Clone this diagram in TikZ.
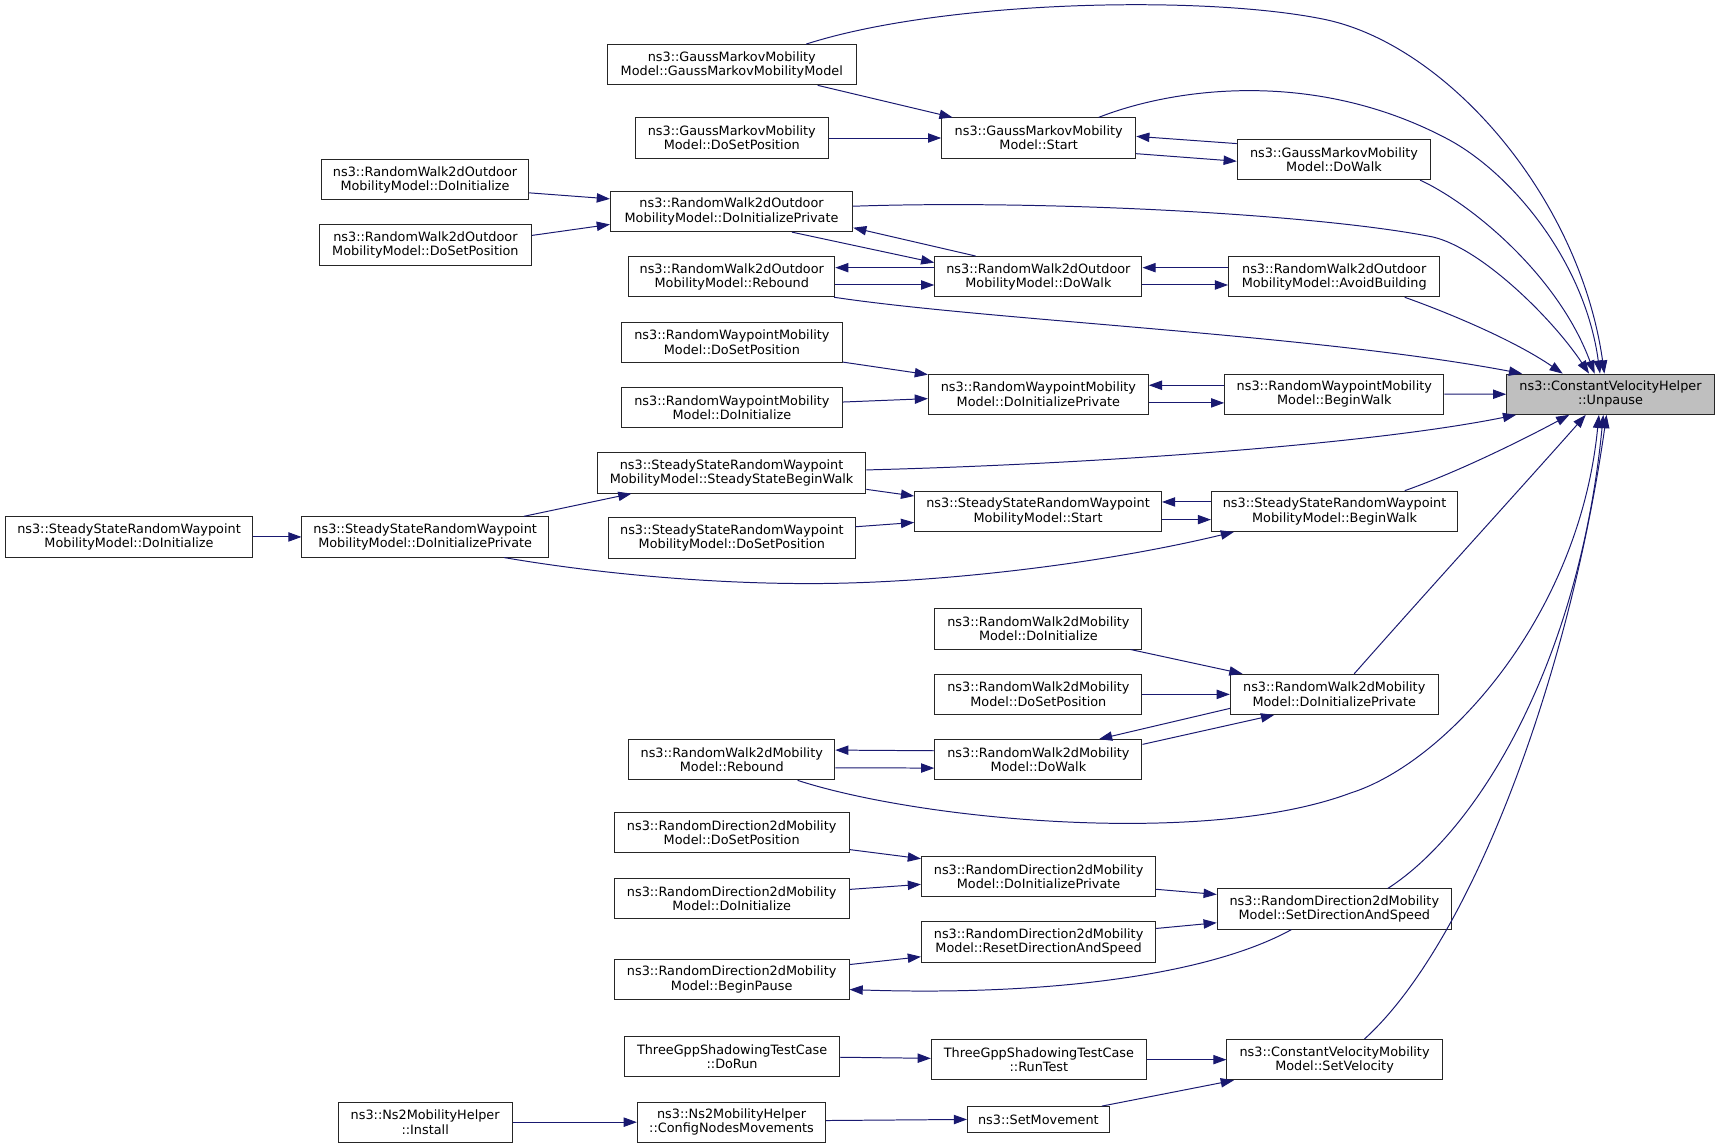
\documentclass[tikz,border=0pt]{standalone}
\usepackage{fontspec}
\setmainfont{DejaVu Sans}
\usetikzlibrary{arrows.meta,calc}
\definecolor{mblue}{HTML}{191970}
\definecolor{rootgray}{HTML}{BFBFBF}
\tikzset{
  box/.style={draw=black!85, line width=0.9pt, fill=white, inner sep=0pt,
    minimum height=36.7pt, align=center, font=\fontsize{11.7}{13.1}\selectfont},
  edge/.style={draw=mblue, line width=0.9pt, -{Triangle[length=12pt,width=8.5pt]}}
}
\begin{document}
\begin{tikzpicture}[x=1pt,y=-1pt]
\useasboundingbox (0,0) rectangle (1568,1046.5);
% nodes
\node[box, fill=rootgray, minimum width=189.3pt] (unp) at (1468.2,359.4) {ns3::ConstantVelocityHelper\\::Unpause};
\node[box, minimum width=226.6pt] (gmc) at (667.1,59) {ns3::GaussMarkovMobility\\Model::GaussMarkovMobilityModel};
\node[box, minimum width=176.4pt] (gmsp) at (667.1,125.8) {ns3::GaussMarkovMobility\\Model::DoSetPosition};
\node[box, minimum width=176.9pt] (gmst) at (946.9,125.8) {ns3::GaussMarkovMobility\\Model::Start};
\node[box, minimum width=176.4pt] (gmwk) at (1216.1,145.4) {ns3::GaussMarkovMobility\\Model::DoWalk};
\node[box, minimum width=189pt] (odi) at (387.5,163.8) {ns3::RandomWalk2dOutdoor\\MobilityModel::DoInitialize};
\node[box, minimum width=193.6pt] (osp) at (387.8,223.4) {ns3::RandomWalk2dOutdoor\\MobilityModel::DoSetPosition};
\node[box, minimum width=220.9pt] (odip) at (666.9,192.8) {ns3::RandomWalk2dOutdoor\\MobilityModel::DoInitializePrivate};
\node[box, minimum width=187.8pt] (orb) at (667.1,252.2) {ns3::RandomWalk2dOutdoor\\MobilityModel::Rebound};
\node[box, minimum width=188.9pt] (owk) at (946.6,252.2) {ns3::RandomWalk2dOutdoor\\MobilityModel::DoWalk};
\node[box, minimum width=192.6pt] (oab) at (1216.3,252.2) {ns3::RandomWalk2dOutdoor\\MobilityModel::AvoidBuilding};
\node[box, minimum width=201.5pt] (wsp) at (667.2,311.9) {ns3::RandomWaypointMobility\\Model::DoSetPosition};
\node[box, minimum width=201.5pt] (wdi) at (667.2,371.5) {ns3::RandomWaypointMobility\\Model::DoInitialize};
\node[box, minimum width=200.5pt] (wdip) at (946.6,359.3) {ns3::RandomWaypointMobility\\Model::DoInitializePrivate};
\node[box, minimum width=199.9pt] (wbw) at (1216.4,359.3) {ns3::RandomWaypointMobility\\Model::BeginWalk};
\node[box, minimum width=244.9pt] (sbwa) at (666.9,431.2) {ns3::SteadyStateRandomWaypoint\\MobilityModel::SteadyStateBeginWalk};
\node[box, minimum width=224.5pt] (ssp) at (667.2,490.5) {ns3::SteadyStateRandomWaypoint\\MobilityModel::DoSetPosition};
\node[box, minimum width=225pt] (sst) at (946.3,466.1) {ns3::SteadyStateRandomWaypoint\\MobilityModel::Start};
\node[box, minimum width=224.5pt] (sbw) at (1216.6,466.1) {ns3::SteadyStateRandomWaypoint\\MobilityModel::BeginWalk};
\node[box, minimum width=225.4pt] (sdi) at (117.6,489.5) {ns3::SteadyStateRandomWaypoint\\MobilityModel::DoInitialize};
\node[box, minimum width=224.6pt] (sdip) at (387.6,489.5) {ns3::SteadyStateRandomWaypoint\\MobilityModel::DoInitializePrivate};
\node[box, minimum width=188.9pt] (mdi) at (946.6,573.3) {ns3::RandomWalk2dMobility\\Model::DoInitialize};
\node[box, minimum width=188.9pt] (msp) at (946.6,633) {ns3::RandomWalk2dMobility\\Model::DoSetPosition};
\node[box, minimum width=189.4pt] (mdip) at (1216.3,633) {ns3::RandomWalk2dMobility\\Model::DoInitializePrivate};
\node[box, minimum width=187.8pt] (mrb) at (667.1,692.6) {ns3::RandomWalk2dMobility\\Model::Rebound};
\node[box, minimum width=188.9pt] (mwk) at (946.6,692.6) {ns3::RandomWalk2dMobility\\Model::DoWalk};
\node[box, minimum width=214.1pt] (dsp) at (667,759.2) {ns3::RandomDirection2dMobility\\Model::DoSetPosition};
\node[box, minimum width=214.1pt] (ddi) at (667,819) {ns3::RandomDirection2dMobility\\Model::DoInitialize};
\node[box, minimum width=213.6pt] (ddip) at (946.8,799.2) {ns3::RandomDirection2dMobility\\Model::DoInitializePrivate};
\node[box, minimum width=213.5pt] (dsd) at (1216.4,828.7) {ns3::RandomDirection2dMobility\\Model::SetDirectionAndSpeed};
\node[box, minimum width=213.6pt] (drs) at (946.8,858.8) {ns3::RandomDirection2dMobility\\Model::ResetDirectionAndSpeed};
\node[box, minimum width=214.1pt] (dbp) at (667,892.9) {ns3::RandomDirection2dMobility\\Model::BeginPause};
\node[box, minimum width=195.7pt] (tdr) at (667.4,963.4) {ThreeGppShadowingTestCase\\::DoRun};
\node[box, minimum width=196.2pt] (trt) at (947.1,966) {ThreeGppShadowingTestCase\\::RunTest};
\node[box, minimum width=196.2pt] (csv) at (1216.6,966) {ns3::ConstantVelocityMobility\\Model::SetVelocity};
\node[box, minimum width=158.4pt] (nin) at (387.6,1023) {ns3::Ns2MobilityHelper\\::Install};
\node[box, minimum width=171.7pt] (ncm) at (666.9,1023) {ns3::Ns2MobilityHelper\\::ConfigNodesMovements};
\node[box, minimum width=129.2pt, minimum height=23.4pt] (smv) at (946.6,1020.5) {ns3::SetMovement};
% edges into Unpause
\draw[edge] ($(gmc.north west)+(181.6,0)$) .. controls (860,0) and (1100,-5) .. (1209,18) .. controls (1320,42) and (1440,180) .. ($(unp.north west)+(89.5,0)$);
\draw[edge] ($(gmst.north west)+(143.6,0)$) .. controls (1070,80) and (1200,62) .. (1322,128) .. controls (1380,160) and (1445,240) .. ($(unp.north west)+(85.5,0)$);
\draw[edge] ($(gmwk.south west)+(167.1,0)$) .. controls (1340,185) and (1420,250) .. ($(unp.north west)+(80.5,0)$);
\draw[edge] ($(odip.north east)+(0,14)$) .. controls (950,182) and (1200,195) .. (1306,216) .. controls (1350,226) and (1415,290) .. ($(unp.north west)+(75.5,0)$);
\draw[edge] ($(oab.south west)+(161,0)$) .. controls (1320,285) and (1380,310) .. ($(unp.north west)+(51.5,0)$);
\draw[edge] ($(orb.south east)+(-1,0)$) .. controls (900,292) and (1200,305) .. ($(unp.north west)+(14.5,0)$);
\draw[edge] (wbw.east) -- (unp.west);
\draw[edge] ($(sbwa.north east)+(0,16)$) .. controls (1000,423) and (1250,405) .. ($(unp.south west)+(9,0)$);
\draw[edge] ($(sbw.north west)+(176.7,0)$) .. controls (1330,430) and (1390,400) .. ($(unp.south west)+(57.5,0)$);
\draw[edge] ($(mdip.north west)+(113.4,0)$) .. controls (1300,540) and (1400,430) .. ($(unp.south west)+(72.5,0)$);
\draw[edge] ($(mrb.south west)+(154.4,0)$) .. controls (840,748) and (1100,772) .. (1231,723) .. controls (1320,695) and (1440,560) .. ($(unp.south west)+(84.5,0)$);
\draw[edge] ($(dsd.north west)+(156,0)$) .. controls (1350,755) and (1440,600) .. ($(unp.south west)+(88.5,0)$);
\draw[edge] ($(csv.north west)+(125.8,0)$) .. controls (1340,860) and (1430,620) .. ($(unp.south west)+(91.5,0)$);
% GaussMarkov
\draw[edge] ($(gmc.south west)+(192.1,0)$) -- ($(gmst.north west)+(10.4,0)$);
\draw[edge] (gmsp.east) -- (gmst.west);
\draw[edge] ($(gmwk.north west)+(0,4.3)$) -- ($(gmst.north east)+(0,17.3)$);
\draw[edge] ($(gmst.north east)+(0,33.1)$) -- ($(gmwk.north west)+(0,20.4)$);
% RandomWalk2dOutdoor
\draw[edge] ($(odi.north east)+(0,30.8)$) -- ($(odip.north west)+(0,7.3)$);
\draw[edge] ($(osp.north east)+(0,10)$) -- ($(odip.north west)+(0,30.6)$);
\draw[edge] ($(owk.north west)+(37.7,0)$) -- ($(odip.north east)+(0,33.6)$);
\draw[edge] ($(odip.south west)+(165.9,0)$) -- ($(owk.north west)+(0,6)$);
\draw[edge] ($(owk.north west)+(0,10.6)$) -- ($(orb.north east)+(0,10.6)$);
\draw[edge] ($(orb.north east)+(0,26.4)$) -- ($(owk.north west)+(0,26.4)$);
\draw[edge] ($(oab.north west)+(0,10.6)$) -- ($(owk.north east)+(0,10.6)$);
\draw[edge] ($(owk.north east)+(0,26.4)$) -- ($(oab.north west)+(0,26.4)$);
% RandomWaypoint
\draw[edge] ($(wsp.south east)+(0,-0.6)$) -- ($(wdip.north west)+(0,1)$);
\draw[edge] ($(wdi.north east)+(0,13.8)$) -- ($(wdip.north west)+(0,22.9)$);
\draw[edge] ($(wbw.north west)+(0,10.7)$) -- ($(wdip.north east)+(0,10.7)$);
\draw[edge] ($(wdip.north east)+(0,26.8)$) -- ($(wbw.north west)+(0,26.8)$);
% SteadyState
\draw[edge] (sdi.east) -- (sdip.west);
\draw[edge] ($(sdip.north west)+(202.7,0)$) -- ($(sbwa.south west)+(31.6,0)$);
\draw[edge] ($(sbwa.north east)+(0,33.7)$) -- ($(sst.north west)+(0,4.9)$);
\draw[edge] ($(ssp.north east)+(0,8.5)$) -- ($(sst.north west)+(0,29)$);
\draw[edge] ($(sbw.north west)+(0,10.3)$) -- ($(sst.north east)+(0,10.3)$);
\draw[edge] ($(sst.north east)+(0,26.4)$) -- ($(sbw.north west)+(0,26.4)$);
\draw[edge] ($(sdip.south west)+(184.7,0)$) .. controls (540,522) and (640,532) .. (738,532) .. controls (850,532) and (1000,515) .. ($(sbw.south west)+(21,0)$);
% RandomWalk2dMobility
\draw[edge] ($(mdi.south west)+(178.9,0)$) -- ($(mdip.north west)+(11.5,0)$);
\draw[edge] (msp.east) -- (mdip.west);
\draw[edge] ($(mdip.north west)+(0,31.6)$) -- ($(mwk.north west)+(150.2,0)$);
\draw[edge] ($(mwk.north east)+(0,4.8)$) -- ($(mdip.south west)+(40.4,0)$);
\draw[edge] ($(mwk.north west)+(0,10.6)$) -- ($(mrb.north east)+(0,10)$);
\draw[edge] ($(mrb.north east)+(0,26.1)$) -- ($(mwk.north west)+(0,26.4)$);
% RandomDirection2d
\draw[edge] ($(dsp.north east)+(0,34.1)$) -- ($(ddip.north west)+(0,2.4)$);
\draw[edge] ($(ddi.north east)+(0,10.6)$) -- ($(ddip.north west)+(0,25.8)$);
\draw[edge] ($(ddip.north east)+(0,30.3)$) -- ($(dsd.north west)+(0,5.5)$);
\draw[edge] ($(drs.north east)+(0,6.4)$) -- ($(dsd.north west)+(0,31.3)$);
\draw[edge] ($(dbp.north east)+(0,5.2)$) -- ($(drs.north west)+(0,32.2)$);
\draw[edge] ($(dsd.south west)+(68,0)$) .. controls (1100,890) and (950,908) .. ($(dbp.north east)+(0,28)$);
% bottom
\draw[edge] ($(tdr.north east)+(0,19.2)$) -- ($(trt.north west)+(0,17.6)$);
\draw[edge] (trt.east) -- (csv.west);
\draw[edge] ($(smv.north west)+(122.9,0)$) -- ($(csv.south west)+(6.8,0)$);
\draw[edge] ($(ncm.north east)+(0,17.3)$) -- (smv.west);
\draw[edge] (nin.east) -- (ncm.west);
\end{tikzpicture}
\end{document}
